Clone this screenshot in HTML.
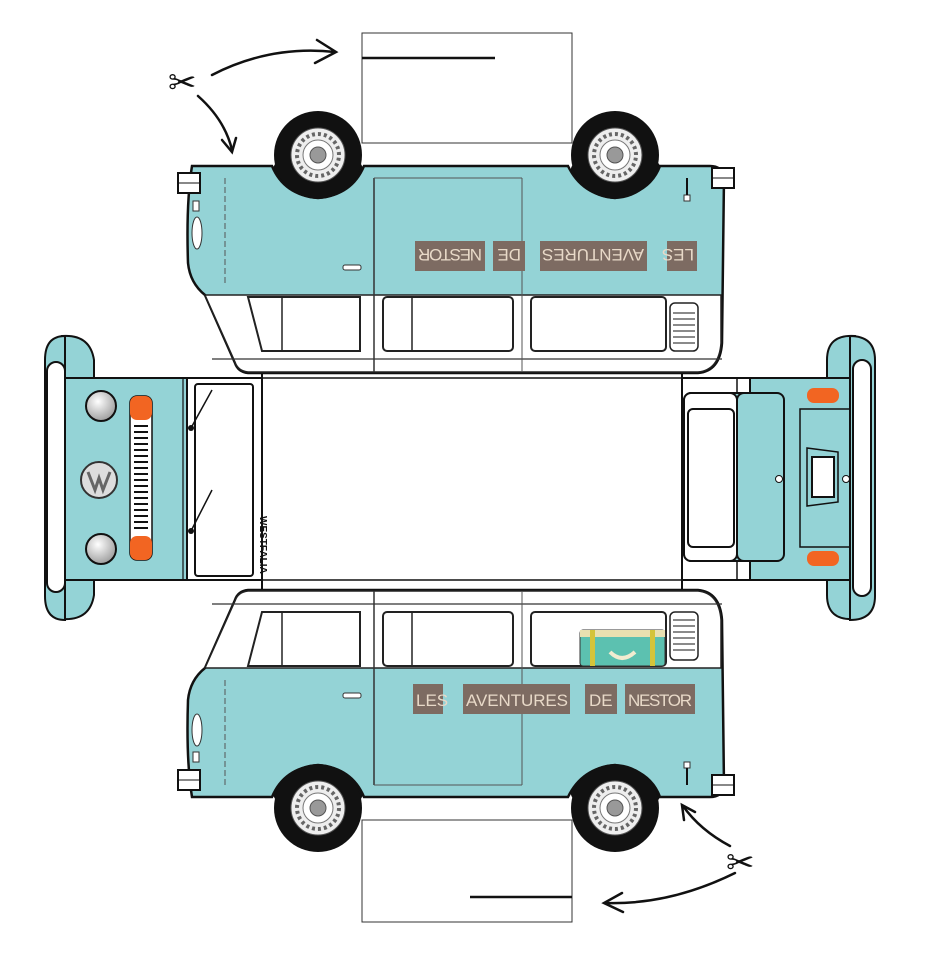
<!DOCTYPE html>
<html><head><meta charset="utf-8"><style>
html,body{margin:0;padding:0;background:#fff;}
svg{display:block;}
</style></head><body>
<svg width="925" height="960" viewBox="0 0 925 960" xmlns="http://www.w3.org/2000/svg">
<defs>
<radialGradient id="lamp" cx="0.4" cy="0.35" r="0.7"><stop offset="0" stop-color="#fff"/><stop offset="1" stop-color="#999"/></radialGradient>
<g id="wheel">
  <circle r="44" fill="#111"/>
  <circle r="27" fill="#eee" stroke="#555" stroke-width="1"/>
  <circle r="21" fill="none" stroke="#666" stroke-width="4" stroke-dasharray="3 3"/>
  <circle r="15" fill="#fff" stroke="#777"/>
  <circle r="8" fill="#999" stroke="#555"/>
</g>
<g id="van">
  <rect x="272" y="762" width="92" height="45" rx="18" fill="#111"/>
  <rect x="570" y="762" width="92" height="45" rx="18" fill="#111"/>
  <path d="M248 590 L698 590 Q720 592 722 620 L724 786 Q722 797 710 797 L660 797 Q650 770 615 765 Q582 768 568 797 L364 797 Q352 768 318 765 Q284 768 272 797 L192 797 Q186 760 188 700 Q190 680 205 668 L235 600 Q238 591 248 590 Z" fill="#94d3d6" stroke="#111" stroke-width="2.5"/>
  <path d="M248 591 L698 591 Q719 593 721 620 L721 668 L205 668 L235 601 Q238 592 248 591 Z" fill="#fff" stroke="#222" stroke-width="1.5"/>
  <line x1="212" y1="604" x2="722" y2="604" stroke="#333" stroke-width="1.2"/>
  <path d="M262 612 L360 612 L360 666 L248 666 Z" fill="#fff" stroke="#222" stroke-width="2"/>
  <line x1="282" y1="612" x2="282" y2="666" stroke="#222" stroke-width="1.5"/>
  <rect x="383" y="612" width="130" height="54" rx="4" fill="#fff" stroke="#222" stroke-width="2"/>
  <line x1="412" y1="612" x2="412" y2="666" stroke="#222" stroke-width="1.5"/>
  <rect x="531" y="612" width="135" height="54" rx="4" fill="#fff" stroke="#222" stroke-width="2"/>
  <rect x="670" y="612" width="28" height="48" rx="5" fill="#fff" stroke="#222" stroke-width="1.5"/>
  <g stroke="#444" stroke-width="1.2">
    <line x1="673" y1="620" x2="695" y2="620"/><line x1="673" y1="626" x2="695" y2="626"/><line x1="673" y1="632" x2="695" y2="632"/><line x1="673" y1="638" x2="695" y2="638"/><line x1="673" y1="644" x2="695" y2="644"/><line x1="673" y1="650" x2="695" y2="650"/>
  </g>
  <line x1="374" y1="591" x2="374" y2="785" stroke="#333" stroke-width="1.5"/>
  <line x1="522" y1="591" x2="522" y2="785" stroke="#555" stroke-width="1"/>
  <line x1="374" y1="785" x2="522" y2="785" stroke="#555" stroke-width="1"/>
  <path d="M225 680 L225 785" stroke="#555" stroke-width="1" stroke-dasharray="6 3" fill="none"/>
  <ellipse cx="197" cy="730" rx="5" ry="16" fill="#fff" stroke="#333"/>
  <rect x="193" y="752" width="6" height="10" fill="#fff" stroke="#333"/>
  <rect x="343" y="693" width="18" height="5" rx="2" fill="#fff" stroke="#333"/>
  <rect x="684" y="762" width="6" height="6" fill="#fff" stroke="#333"/>
  <line x1="687" y1="768" x2="687" y2="785" stroke="#111" stroke-width="2"/>
  <rect x="178" y="770" width="22" height="20" fill="#fff" stroke="#111" stroke-width="2"/>
  <line x1="178" y1="780" x2="200" y2="780" stroke="#111"/>
  <rect x="712" y="775" width="22" height="20" fill="#fff" stroke="#111" stroke-width="2"/>
  <line x1="712" y1="785" x2="734" y2="785" stroke="#111"/>
  <use href="#wheel" x="318" y="808"/>
  <use href="#wheel" x="615" y="808"/>
</g>
<g id="banner" font-family="Liberation Sans, sans-serif" font-size="17" fill="#e8d9c8">
  <rect x="413" y="684" width="30" height="30" fill="#7d6b62"/><text x="416" y="706">LES</text>
  <rect x="463" y="684" width="107" height="30" fill="#7d6b62"/><text x="466" y="706" textLength="102">AVENTURES</text>
  <rect x="585" y="684" width="32" height="30" fill="#7d6b62"/><text x="589" y="706">DE</text>
  <rect x="625" y="684" width="70" height="30" fill="#7d6b62"/><text x="628" y="706" textLength="64">NESTOR</text>
</g>
</defs>

<rect x="362" y="33" width="210" height="110" fill="#fff" stroke="#333" stroke-width="1"/>
<line x1="362" y1="58" x2="495" y2="58" stroke="#111" stroke-width="2.5"/>
<rect x="362" y="820" width="210" height="102" fill="#fff" stroke="#333" stroke-width="1"/>
<line x1="470" y1="897" x2="572" y2="897" stroke="#111" stroke-width="2.5"/>

<rect x="262" y="365" width="420" height="225" fill="#fff" stroke="#111" stroke-width="2"/>
<line x1="262" y1="378" x2="682" y2="378" stroke="#111" stroke-width="1.5"/>
<line x1="262" y1="580" x2="682" y2="580" stroke="#111" stroke-width="1.5"/>

<path d="M62 336 Q90 334 94 360 L94 378 L62 378 Z" fill="#94d3d6" stroke="#111" stroke-width="2"/>
<path d="M62 619 Q90 621 94 595 L94 580 L62 580 Z" fill="#94d3d6" stroke="#111" stroke-width="2"/>
<rect x="62" y="378" width="125" height="202" fill="#94d3d6" stroke="#111" stroke-width="2"/>
<path d="M65 336 Q45 336 45 360 L45 596 Q45 620 65 620 L65 336" fill="#94d3d6" stroke="#111" stroke-width="2"/>
<rect x="47" y="362" width="18" height="230" rx="9" fill="#fff" stroke="#111" stroke-width="2"/>
<line x1="183" y1="378" x2="183" y2="580" stroke="#111" stroke-width="1.2"/>
<circle cx="101" cy="406" r="15" fill="url(#lamp)" stroke="#111" stroke-width="2"/>
<circle cx="101" cy="549" r="15" fill="url(#lamp)" stroke="#111" stroke-width="2"/>
<circle cx="99" cy="480" r="18" fill="#ddd" stroke="#333" stroke-width="2"/>
<path d="M88 472 L95 490 L99 478 L103 490 L110 472" fill="none" stroke="#666" stroke-width="3"/>
<rect x="130" y="396" width="22" height="164" rx="7" fill="#fff" stroke="#111" stroke-width="1.5"/>
<rect x="130" y="396" width="22" height="24" rx="7" fill="#f26522"/>
<rect x="130" y="536" width="22" height="24" rx="7" fill="#f26522"/>
<g stroke="#111" stroke-width="2">
<line x1="134" y1="426" x2="148" y2="426"/><line x1="134" y1="432" x2="148" y2="432"/><line x1="134" y1="438" x2="148" y2="438"/><line x1="134" y1="444" x2="148" y2="444"/><line x1="134" y1="450" x2="148" y2="450"/><line x1="134" y1="456" x2="148" y2="456"/><line x1="134" y1="462" x2="148" y2="462"/><line x1="134" y1="468" x2="148" y2="468"/><line x1="134" y1="474" x2="148" y2="474"/><line x1="134" y1="480" x2="148" y2="480"/><line x1="134" y1="486" x2="148" y2="486"/><line x1="134" y1="492" x2="148" y2="492"/><line x1="134" y1="498" x2="148" y2="498"/><line x1="134" y1="504" x2="148" y2="504"/><line x1="134" y1="510" x2="148" y2="510"/><line x1="134" y1="516" x2="148" y2="516"/><line x1="134" y1="522" x2="148" y2="522"/><line x1="134" y1="528" x2="148" y2="528"/>
</g>
<rect x="187" y="378" width="75" height="202" fill="#fff" stroke="#111" stroke-width="2"/>
<rect x="195" y="384" width="58" height="192" rx="3" fill="#fff" stroke="#111" stroke-width="2"/>
<line x1="191" y1="428" x2="212" y2="390" stroke="#111" stroke-width="1.5"/><circle cx="191" cy="428" r="3" fill="#111"/>
<line x1="191" y1="531" x2="212" y2="490" stroke="#111" stroke-width="1.5"/><circle cx="191" cy="531" r="3" fill="#111"/>
<text transform="translate(260,516) rotate(90)" font-family="Liberation Sans, sans-serif" font-size="10" font-weight="bold" fill="#111">WESTFALIA</text>

<rect x="682" y="378" width="68" height="202" fill="#fff" stroke="#111" stroke-width="2"/>
<line x1="737" y1="378" x2="737" y2="580" stroke="#111" stroke-width="1.5"/>
<rect x="684" y="393" width="100" height="168" rx="7" fill="#94d3d6" stroke="#111" stroke-width="2"/>
<rect x="684" y="393" width="53" height="168" rx="7" fill="#fff" stroke="#111" stroke-width="2"/>
<rect x="688" y="409" width="46" height="138" rx="5" fill="#fff" stroke="#111" stroke-width="2"/>
<rect x="750" y="378" width="105" height="202" fill="#94d3d6" stroke="#111" stroke-width="2"/>
<rect x="737" y="393" width="47" height="168" rx="7" fill="#94d3d6" stroke="#111" stroke-width="2"/>
<rect x="800" y="409" width="55" height="138" fill="#94d3d6" stroke="#111" stroke-width="1.5"/>
<rect x="807" y="388" width="32" height="15" rx="7" fill="#f26522"/>
<rect x="807" y="551" width="32" height="15" rx="7" fill="#f26522"/>
<path d="M807 448 L838 452 L838 502 L807 506 Z" fill="none" stroke="#111" stroke-width="1.5"/>
<rect x="812" y="457" width="22" height="40" fill="#fff" stroke="#111" stroke-width="2"/>
<circle cx="779" cy="479" r="3.5" fill="#fff" stroke="#111"/>
<circle cx="846" cy="479" r="3.5" fill="#fff" stroke="#111"/>
<path d="M855 336 Q827 334 827 360 L827 378 L855 378 Z" fill="#94d3d6" stroke="#111" stroke-width="2"/>
<path d="M855 619 Q827 621 827 595 L827 580 L855 580 Z" fill="#94d3d6" stroke="#111" stroke-width="2"/>
<path d="M850 336 Q875 336 875 360 L875 596 Q875 620 850 620 Z" fill="#94d3d6" stroke="#111" stroke-width="2"/>
<rect x="853" y="360" width="18" height="236" rx="9" fill="#fff" stroke="#111" stroke-width="2"/>

<use href="#van"/>
<g transform="translate(0,963) scale(1,-1)"><use href="#van"/></g>
<use href="#banner"/>
<g transform="rotate(180 555 256) translate(0,-443)"><use href="#banner"/></g>

<rect x="580" y="630" width="85" height="36" rx="3" fill="#5cc1b0" stroke="#333"/>
<rect x="580" y="630" width="85" height="7" fill="#e9e0b0"/>
<rect x="590" y="630" width="5" height="36" fill="#d4c43a"/><rect x="650" y="630" width="5" height="36" fill="#d4c43a"/>
<path d="M610 652 Q622 664 635 652" fill="none" stroke="#f2ecd0" stroke-width="4"/>

<g fill="none" stroke="#111" stroke-width="2.5" stroke-linecap="round">
<path d="M212 75 Q270 45 335 52"/><path d="M317 40 L336 52 L315 63"/>
<path d="M198 96 Q225 120 232 150"/><path d="M222 140 L232 152 L236 138"/>
<path d="M735 873 Q670 905 606 903"/><path d="M622 893 L604 903 L623 912"/>
<path d="M730 846 Q700 830 683 806"/><path d="M684 820 L682 805 L695 812"/>
</g>
<text x="168" y="94" font-family="DejaVu Sans, sans-serif" font-size="34" fill="#111">✂</text>
<text x="726" y="874" font-family="DejaVu Sans, sans-serif" font-size="34" fill="#111">✂</text>
</svg>
</body></html>
